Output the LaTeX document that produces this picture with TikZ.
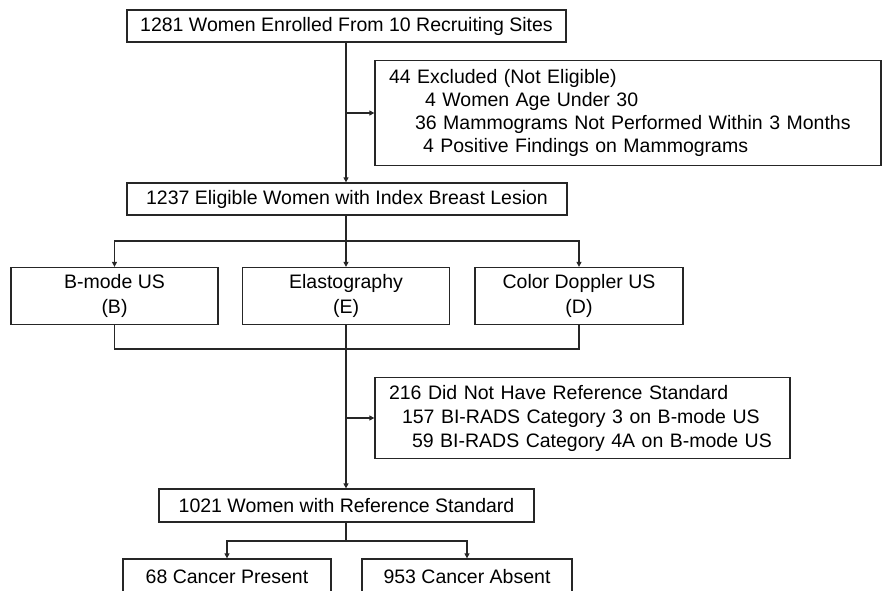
\documentclass[tikz,border=0pt]{standalone}
\usepackage{fontspec}
\setmainfont{Liberation Sans}
\usetikzlibrary{arrows.meta}
\begin{document}
\begin{tikzpicture}[x=1pt,y=-1pt,
  box/.style={draw=black!85, line width=1.3pt, inner sep=0pt, align=center,
    font=\fontsize{19.5}{25}\selectfont},
  listbox/.style={draw=black!85, line width=1.3pt, inner ysep=0pt, inner xsep=14pt, align=left},
  line/.style={draw=black!85, line width=1.2pt},
  arr/.style={line, -{Triangle[length=5pt,width=5pt]}}]
\useasboundingbox (0,0) rectangle (883,590);
\begin{scope}
\clip (0,0) rectangle (883,590);
\node[box, minimum width=439pt, minimum height=32pt] (enr) at (346.5,26) {1281 Women Enrolled From 10 Recruiting Sites};
\node[listbox, minimum width=506pt, text width=478pt, minimum height=105pt,
  font=\fontsize{19.5}{22.7}\selectfont] (exc) at (628,113)
  {44 Excluded (Not Eligible)\\
   \hspace*{36pt}4 Women Age Under 30\\
   \hspace*{26pt}36 Mammograms Not Performed Within 3 Months\\
   \hspace*{34pt}4 Positive Findings on Mammograms};
\node[box, minimum width=440pt, minimum height=32pt] (elig) at (347,199) {1237 Eligible Women with Index Breast Lesion};
\node[box, minimum width=207pt, minimum height=57pt] (bm) at (114.5,296) {B-mode US\\(B)};
\node[box, minimum width=207pt, minimum height=57pt] (el) at (346,296) {Elastography\\(E)};
\node[box, minimum width=208pt, minimum height=57pt] (cd) at (579,296) {Color Doppler US\\(D)};
\node[listbox, minimum width=415pt, text width=387pt, minimum height=81pt,
  font=\fontsize{19.5}{24}\selectfont] (nrs) at (582.5,418)
  {216 Did Not Have Reference Standard\\
   \hspace*{13pt}157 BI-RADS Category 3 on B-mode US\\
   \hspace*{23pt}59 BI-RADS Category 4A on B-mode US};
\node[box, minimum width=375pt, minimum height=33pt] (ref) at (346.5,505.5) {1021 Women with Reference Standard};
\node[box, minimum width=208pt, minimum height=36pt] (cp) at (227,577) {68 Cancer Present};
\node[box, minimum width=210pt, minimum height=36pt] (ca) at (467,577) {953 Cancer Absent};

\coordinate (j1) at (346,113);
\coordinate (j2) at (346,241);
\coordinate (j3) at (346,349);
\coordinate (j4) at (346,418);
\coordinate (j5) at (346,541);

\draw[arr] (enr.south -| j1) -- (elig.north -| j1);
\draw[arr] (j1) -- (exc.west);
\draw[line] (elig.south -| j2) -- (j2);
\draw[arr] (j2) -| (bm.north);
\draw[arr] (j2) -- (el.north);
\draw[arr] (j2) -| (cd.north);
\draw[line] (bm.south) |- (j3) -| (cd.south);
\draw[line] (el.south) -- (j3);
\draw[arr] (j3) -- (ref.north -| j3);
\draw[arr] (j4) -- (nrs.west);
\draw[line] (ref.south -| j5) -- (j5);
\draw[arr] (j5) -| (cp.north);
\draw[arr] (j5) -| (ca.north);
\end{scope}
\end{tikzpicture}
\end{document}
